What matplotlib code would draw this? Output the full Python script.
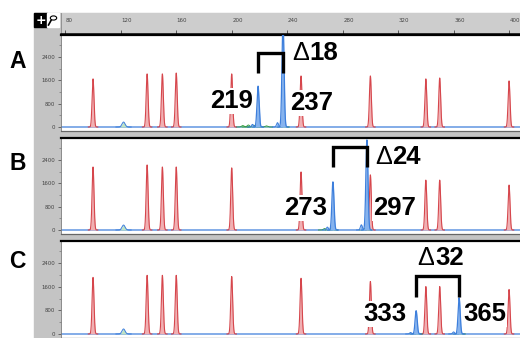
import matplotlib
matplotlib.use('Agg')
import matplotlib.pyplot as plt
import numpy as np
from matplotlib.patches import Rectangle, Circle
from matplotlib.lines import Line2D
from matplotlib.ticker import FixedLocator

# ---------------- data ----------------
ruler_ticks = [80, 120, 160, 200, 240, 280, 320, 360, 400]
y_ticks = [0, 800, 1600, 2400]
panel_letters = ['A', 'B', 'C']

size_standard = [100, 139, 150, 160, 200, 250, 300, 340, 350, 400]
ladder_heights_A = [1650, 1820, 1820, 1850, 1820, 1750, 1750, 1650, 1680, 1580]
ladder_heights_B = [2160, 2230, 2160, 2160, 2130, 1990, 1890, 1710, 1710, 1540]
ladder_heights_C = [1920, 1990, 1990, 1990, 1950, 1890, 1780, 1610, 1610, 1510]

allele_sizes_A = [219, 237]
allele_heights_A = [1400, 3600]
allele_sizes_B = [273, 297.5]
allele_heights_B = [1650, 3090]
allele_sizes_C = [333, 364]
allele_heights_C = [790, 1230]

stutter_sizes_A = [215, 233]
stutter_heights_A = [90, 150]
stutter_sizes_B = [269, 293.5]
stutter_heights_B = [100, 180]
stutter_sizes_C = [329, 360]
stutter_heights_C = [50, 70]

green_sizes_A = [208, 212, 216, 225, 237]
green_heights_A = [50, 70, 60, 40, 70]
green_sizes_B = [267, 272, 296.5]
green_heights_B = [50, 70, 80]
green_sizes_C = [333, 364]
green_heights_C = [50, 60]

artifact_size = 122
artifact_height = 170

allele_labels_A = ['219', '237']
allele_labels_B = ['273', '297']
allele_labels_C = ['333', '365']
delta_labels = ['18', '24', '32']

# --------------- layout ---------------
W, H = 520, 338
fig = plt.figure(figsize=(5.2, 3.38), dpi=100)
fig.patch.set_facecolor('white')

def fx(px):
    return px / W

def fy(py):
    return 1 - py / H

GRAY = '#c4c4c4'
XL = (76.9, 407.9)
YL = (-137, 3154)

# gray background (left column + gaps between panels)
fig.add_artist(Rectangle((fx(34), 0), fx(520) - fx(34), fy(13), transform=fig.transFigure,
                         color=GRAY, zorder=0))

# icons
fig.add_artist(Rectangle((fx(34), fy(27)), 13 / W, 14 / H, transform=fig.transFigure,
                         color='black', zorder=2))
fig.text(fx(40.5), fy(20), '+', color='white', fontsize=9, fontweight='bold',
         ha='center', va='center', zorder=3)
fig.add_artist(Rectangle((fx(47), fy(27)), 12 / W, 14 / H, transform=fig.transFigure,
                         color='white', zorder=2))
fig.add_artist(Circle((fx(53.5), fy(18)), 3.2 / W, transform=fig.transFigure,
                      fill=False, ec='black', lw=0.8, zorder=3))
fig.add_artist(Line2D([fx(51), fx(48.5)], [fy(20.5), fy(25)], transform=fig.transFigure,
                      color='black', lw=1.2, zorder=3))

# ruler
axr = fig.add_axes([fx(61), fy(34), (520 - 61) / W, 21 / H])
axr.set_facecolor('#cdcdcd')
axr.set_xlim(*XL)
axr.set_ylim(0, 1)
for s in ['top', 'right']:
    axr.spines[s].set_visible(False)
axr.spines['left'].set_color('#888888')
axr.spines['left'].set_linewidth(0.6)
axr.spines['bottom'].set_color('black')
axr.spines['bottom'].set_linewidth(1.8)
axr.set_xticks(ruler_ticks)
axr.tick_params(axis='x', which='major', direction='in', length=3, width=0.7,
                labelbottom=False, color='#555555')
axr.set_yticks([])
for t in ruler_ticks:
    axr.text(t + 0.4, 0.62, str(t), fontsize=4.0, color='#444444', ha='left', va='center',
             family='DejaVu Sans')

panels_px = [(35, 131), (138, 234), (241, 338)]
ladders = [ladder_heights_A, ladder_heights_B, ladder_heights_C]
alleles = [(allele_sizes_A, allele_heights_A), (allele_sizes_B, allele_heights_B),
           (allele_sizes_C, allele_heights_C)]
stutters = [(stutter_sizes_A, stutter_heights_A), (stutter_sizes_B, stutter_heights_B),
            (stutter_sizes_C, stutter_heights_C)]
greens = [(green_sizes_A, green_heights_A), (green_sizes_B, green_heights_B),
          (green_sizes_C, green_heights_C)]
labels = [allele_labels_A, allele_labels_B, allele_labels_C]

xs = np.arange(70.0, 415.0, 0.02)

RED_LINE = '#d6464c'
RED_FILL = '#f0b0b3'
BLUE_LINE = '#3d7fdc'
BLUE_FILL = '#86b3ee'
GREEN_LINE = '#2f9a3a'
GREEN_FILL = '#8fd19a'


def draw_peaks(ax, centers, heights, sigma, lc, fc, lw=0.8, z=3):
    for c, h in zip(centers, heights):
        m = np.abs(xs - c) < 5 * sigma
        xx = xs[m]
        yy = h * np.exp(-0.5 * ((xx - c) / sigma) ** 2)
        ax.fill_between(xx, 0, yy, color=fc, lw=0, zorder=z)
        ax.plot(xx, yy, color=lc, lw=lw, zorder=z + 0.1)


# label placement settings (data coords)
lab_left = [(215.4, 890), (268.7, 754), (326.4, 686)]
lab_right = [(242.1, 823), (301.9, 754), (366.8, 686)]
bracket_y = [(1850, 2550), (2160, 2846), (1269, 1954)]
delta_pos = [(243.5, 2537), (303.4, 2503), (334.0, 2572)]
letter_y = [61, 164, 261]

FONT = 'Liberation Sans'

for i, (top, bot) in enumerate(panels_px):
    ax = fig.add_axes([fx(61), fy(bot), (520 - 61) / W, (bot - top) / H])
    ax.set_facecolor('white')
    ax.set_xlim(*XL)
    ax.set_ylim(*YL)
    ax.spines['right'].set_visible(False)
    ax.spines['top'].set_color('black')
    ax.spines['top'].set_linewidth(1.6)
    ax.spines['bottom'].set_color('#666666')
    ax.spines['bottom'].set_linewidth(0.9)
    ax.spines['left'].set_color('#777777')
    ax.spines['left'].set_linewidth(0.6)
    ax.set_xticks([])
    ax.set_yticks(y_ticks)
    ax.set_yticklabels([str(v) for v in y_ticks])
    ax.yaxis.set_minor_locator(FixedLocator([400, 1200, 2000, 2800]))
    ax.tick_params(axis='y', which='major', direction='out', length=2.5, width=0.6,
                   labelsize=3.9, pad=1.5, color='#555555', labelcolor='#444444')
    ax.tick_params(axis='y', which='minor', direction='out', length=1.5, width=0.5,
                   color='#777777')

    # baseline
    ax.axhline(0, color='#7aa6e6', lw=1.3, zorder=2)

    # artifact bump
    draw_peaks(ax, [artifact_size], [artifact_height], 1.1, BLUE_LINE, '#bfe3c4', lw=0.7, z=2.5)

    # ladder
    draw_peaks(ax, size_standard, ladders[i], 0.68, RED_LINE, RED_FILL, lw=0.8, z=3)
    # green noise
    draw_peaks(ax, greens[i][0], greens[i][1], 0.9, GREEN_LINE, GREEN_FILL, lw=0.6, z=3.2)
    # stutter + alleles
    draw_peaks(ax, stutters[i][0], stutters[i][1], 0.7, BLUE_LINE, BLUE_FILL, lw=0.7, z=3.4)
    draw_peaks(ax, alleles[i][0], alleles[i][1], 0.75, BLUE_LINE, BLUE_FILL, lw=0.9, z=3.5)

    # allele labels
    kw = dict(fontsize=18.5, fontweight='bold', family=FONT, va='center', zorder=6,
              bbox=dict(fc='white', ec='none', pad=0.6))
    ax.text(lab_left[i][0], lab_left[i][1], labels[i][0], ha='right', **kw)
    ax.text(lab_right[i][0], lab_right[i][1], labels[i][1], ha='left', **kw)

    # bracket
    a1, a2 = alleles[i][0]
    yb, yt = bracket_y[i]
    ax.plot([a1, a1, a2, a2], [yb, yt, yt, yb], color='black', lw=2.4,
            solid_joinstyle='miter', solid_capstyle='butt', zorder=7)

    # delta label
    dx, dy = delta_pos[i]
    ax.annotate('Δ', xy=(dx, dy), fontsize=18.5, fontweight='normal', family=FONT,
                ha='left', va='center', zorder=6, annotation_clip=False,
                bbox=dict(fc='white', ec='none', pad=0.6))
    ax.annotate(delta_labels[i], xy=(dx, dy), xytext=(12.6, 0), textcoords='offset points',
                fontsize=18.5, fontweight='bold', family=FONT, ha='left', va='center',
                zorder=6, annotation_clip=False,
                bbox=dict(fc='white', ec='none', pad=0.6))

    # panel letter
    fig.text(fx(17.5), fy(letter_y[i]), panel_letters[i], fontsize=16.5, fontweight='bold',
             family=FONT, ha='center', va='center')

fig.savefig('out.png', dpi=100, facecolor='white')
